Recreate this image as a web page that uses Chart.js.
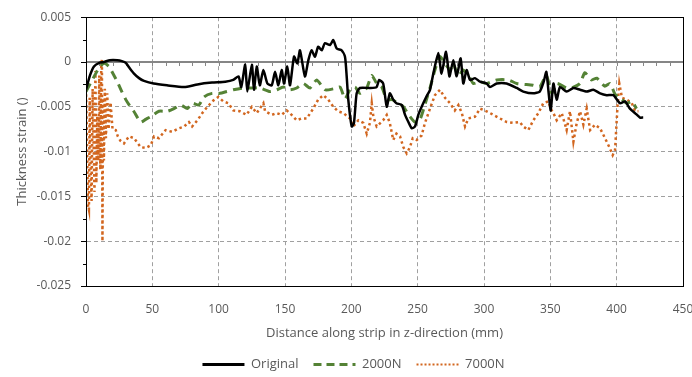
<!DOCTYPE html>
<html>
<head>
<meta charset="utf-8">
<script src="https://cdn.jsdelivr.net/npm/chart.js@4.4.1/dist/chart.umd.min.js"></script>
<style>
  html, body { margin: 0; padding: 0; background: #fff; }
  #wrap { width: 692px; height: 377px; }
</style>
</head>
<body>
<div id="wrap"><canvas id="myChart" width="692" height="377"></canvas></div>
<script>
// values
const seriesNames = ['Original', '2000N', '7000N'];

const origX = [0,3,6,10,13.6,18,23.6,27,30,33,36,40,43.7,51,61,74,84,95,105,111,115,117,120,121.6,125,126.6,128.7,131,133.7,136.7,140,142.5,145,147.5,149.3,151.7,153.8,156.8,159.3,161.3,165,167.6,170,172.6,175,177.7,180,184,186.4,189,192.7,195.2,196.5,197.7,200.3,202,204,206.5,214,219,221,224,226.7,229,231.6,234,238,240.5,243,245.5,248,250.5,253,256.8,259.3,261.8,265.6,268,271.4,273.9,276.9,279.4,282.4,284.4,286.9,289.5,293.2,297,302,304.5,309.6,317,324.7,329.6,337,342,345,347,348.5,350.3,352.3,354.8,357.3,362.3,367.4,372.4,377.4,382.4,387.5,392.5,397.5,402.5,406.3,410,413.8,417.6,420];
const origY = [-0.0031,-0.0015,-0.0005,-0.0001,0,0.0002,0.0002,0.0001,-0.0001,-0.0007,-0.00126,-0.0018,-0.0021,-0.0024,-0.0026,-0.0028,-0.0025,-0.0023,-0.0022,-0.002,-0.0016,-0.0028,-0.0003,-0.0033,-0.0003,-0.0031,-0.0005,-0.0026,-0.0009,-0.0024,-0.0026,-0.0011,-0.0026,-0.0009,-0.0024,-0.0005,-0.0026,0.0006,-0.00015,0.0013,-0.0016,0.0002,0.0013,0.0006,0.0017,0.0013,0.0021,0.0019,0.00245,0.0015,0.0013,0.0006,-0.0016,-0.0042,-0.0072,-0.0068,-0.0035,-0.0029,-0.0029,-0.0028,-0.002,-0.0024,-0.005,-0.0035,-0.0042,-0.0046,-0.0048,-0.0059,-0.0067,-0.0074,-0.0072,-0.0059,-0.005,-0.0038,-0.0031,-0.0013,0.001,-0.0013,0.00115,-0.0016,0.0002,-0.0016,0.0004,-0.0024,-0.0009,-0.002,-0.0018,-0.0022,-0.0024,-0.0028,-0.0024,-0.0024,-0.0029,-0.0033,-0.0035,-0.0033,-0.0022,-0.0011,-0.0031,-0.0054,-0.0024,-0.0042,-0.0028,-0.0033,-0.0029,-0.0031,-0.0033,-0.0031,-0.0035,-0.0037,-0.0037,-0.0046,-0.0044,-0.0052,-0.0057,-0.0062,-0.0062];

const n2000X = [0,4,7.3,10,13.6,17.3,20,23.6,27,30,33,36,41.2,45,48.8,55,61.3,66.3,71.4,76.4,80,85,89,95,101,106,111,118.6,126,131,138.7,143.7,148.7,153.8,158.8,163.8,168.9,173.9,180.2,186.4,191.5,195.2,199,202.8,206.5,211.6,215.4,219.2,223,226.7,230.5,235.4,239.2,244.2,248,251.8,256.8,259.3,263,266.8,270.6,274.4,276.9,280.7,284.4,289.5,292,297,302,309.6,318.4,324.7,337,342,347,351,354.8,362.3,367.4,372.4,376,381,385,391,395,398.8,402.5,407.6,411.4,415];
const n2000Y = [-0.0033,-0.0022,-0.0013,-0.0006,-0.00015,-0.0005,-0.0012,-0.0022,-0.0033,-0.0042,-0.0049,-0.0055,-0.0067,-0.0064,-0.0061,-0.0055,-0.0055,-0.0052,-0.0048,-0.0052,-0.0046,-0.0048,-0.0039,-0.0035,-0.0035,-0.0033,-0.0031,-0.0029,-0.0029,-0.0029,-0.0033,-0.0031,-0.0028,-0.0031,-0.0029,-0.0024,-0.0029,-0.002,-0.0031,-0.003,-0.0028,-0.0041,-0.0031,-0.0028,-0.0035,-0.0029,-0.0015,-0.0024,-0.0028,-0.0042,-0.0042,-0.0046,-0.005,-0.0061,-0.0067,-0.0064,-0.0041,-0.0029,-0.0009,0.0006,-0.00015,-0.0009,-0.0002,-0.0016,-0.0009,-0.0018,-0.0024,-0.0022,-0.0024,-0.002,-0.002,-0.0024,-0.0026,-0.0028,-0.0015,-0.0035,-0.0024,-0.0029,-0.0028,-0.0024,-0.0012,-0.002,-0.0018,-0.0027,-0.0024,-0.0036,-0.004,-0.0046,-0.0044,-0.0052];

const n7000X = [0,0.8,1.5,2.2,2.8,3.5,4.2,5,5.7,6.4,7.1,7.8,8.5,9.2,10,10.8,11.5,12,12.4,12.9,13.5,14.2,15,16,17,18.5,20,22.4,24,26,28.6,32.4,36.2,41.2,45,48.8,51.3,55,60,65,70,74,77.6,80,84,87.7,91.5,96,99.7,103.5,107.3,111,116,121,125,128.7,133.7,135,140,143.7,147.5,151.3,155,158.8,162.6,166.4,171.3,175,178.9,182.6,186.4,190,194,199,201.5,205.3,209,211.6,214,215.4,216.6,219.1,224,226.7,229,231.6,234,236.7,239.2,241.7,244.2,246.3,249.3,253,255.5,259.3,263,266.8,270.6,274.4,278,280.7,283.3,285.7,288.2,293.2,297,302,307,312,317.2,322,327,329.6,333.4,337.2,341,344.7,348.5,350.3,352.3,354.8,358.6,362.3,364.8,367.4,369.9,372.4,374.9,377.4,380,383.7,387.5,391.2,394.5,397,398.8,400.6,402,404,407.6,411.4,414,416.4];
const n7000Y = [-0.003,-0.009,-0.016,-0.0165,-0.004,-0.012,-0.0155,-0.003,-0.009,-0.0145,-0.001,-0.0135,-0.006,-0.011,-0.0015,-0.012,-0.0005,0.0003,-0.02,-0.004,-0.011,-0.003,-0.0085,-0.0035,-0.0075,-0.0045,-0.0075,-0.0076,-0.0083,-0.0088,-0.0091,-0.0083,-0.0085,-0.0095,-0.0096,-0.0093,-0.0083,-0.0085,-0.0076,-0.0078,-0.0074,-0.0072,-0.0067,-0.0072,-0.0065,-0.0057,-0.005,-0.0043,-0.0039,-0.0044,-0.0046,-0.0054,-0.0055,-0.0059,-0.005,-0.0057,-0.0046,-0.0055,-0.0059,-0.0057,-0.0059,-0.0054,-0.0059,-0.0065,-0.0063,-0.0063,-0.0052,-0.0042,-0.0037,-0.0042,-0.005,-0.0055,-0.0057,-0.0063,-0.0072,-0.0065,-0.0068,-0.008,-0.0068,-0.0046,-0.0061,-0.0072,-0.0065,-0.0059,-0.0068,-0.0087,-0.008,-0.0083,-0.0095,-0.0102,-0.0095,-0.0085,-0.0087,-0.0082,-0.0068,-0.0052,-0.0037,-0.0031,-0.004,-0.0046,-0.0054,-0.0048,-0.0057,-0.0072,-0.0063,-0.0061,-0.0052,-0.0055,-0.0059,-0.0063,-0.0067,-0.0068,-0.0067,-0.0072,-0.0076,-0.0065,-0.0057,-0.0046,-0.0044,-0.0052,-0.0057,-0.0065,-0.0057,-0.0076,-0.0055,-0.0089,-0.0068,-0.0055,-0.007,-0.0052,-0.0076,-0.007,-0.0074,-0.0085,-0.0095,-0.0104,-0.0098,-0.005,-0.0024,-0.004,-0.0042,-0.0046,-0.0055,-0.0055];

const xTicks = [0, 50, 100, 150, 200, 250, 300, 350, 400, 450];
const yTicks = [0.005, 0, -0.005, -0.01, -0.015, -0.02, -0.025];

const toPoints = (xs, ys) => xs.map((x, i) => ({ x: x, y: ys[i] }));

const textGrey = '#595959';
const font = 'Open Sans';

// zero axis line with minor ticks, minor ticks on y axis, box round plot
const axisDecor = {
  id: 'axisDecor',
  afterInit(chart) {
    // fixed legend band height, legend nudged to where the reference has it
    const lg = chart.legend;
    const fit = lg.fit;
    lg.fit = function () { fit.call(this); this.height = 44; };
    const draw = lg.draw;
    lg.draw = function () {
      this.ctx.save();
      this.ctx.translate(12, 10);
      draw.call(this);
      this.ctx.restore();
    };
  },
  beforeDatasetsDraw(chart) {
    const ctx = chart.ctx;
    const x = chart.scales.x, y = chart.scales.y;
    const a = chart.chartArea;
    const y0 = Math.round(y.getPixelForValue(0));
    ctx.save();
    ctx.strokeStyle = '#868686';
    ctx.lineWidth = 2;
    ctx.beginPath();
    ctx.moveTo(a.left, y0);
    ctx.lineTo(a.right, y0);
    ctx.stroke();
    ctx.lineWidth = 1;
    ctx.beginPath();
    for (let v = 10; v <= 450; v += 10) {
      const px = Math.round(x.getPixelForValue(v)) + 0.5;
      ctx.moveTo(px, y0);
      ctx.lineTo(px, y0 + 4);
    }
    ctx.stroke();
    ctx.restore();
  },
  afterDraw(chart) {
    const ctx = chart.ctx;
    const y = chart.scales.y;
    const a = chart.chartArea;
    ctx.save();
    ctx.strokeStyle = '#000';
    ctx.lineWidth = 1;
    ctx.beginPath();
    for (let v = -0.0225; v < 0.005; v += 0.005) {
      const py = Math.round(y.getPixelForValue(v)) + 0.5;
      ctx.moveTo(a.left - 3, py);
      ctx.lineTo(a.left, py);
    }
    ctx.stroke();
    ctx.strokeRect(Math.round(a.left) + 0.5, Math.round(a.top) + 0.5,
      Math.round(a.right - a.left), Math.round(a.bottom - a.top));
    ctx.restore();
  }
};

new Chart(document.getElementById('myChart'), {
  type: 'scatter',
  data: {
    datasets: [
      {
        label: seriesNames[0],
        data: toPoints(origX, origY),
        showLine: true,
        borderColor: '#000000',
        backgroundColor: '#000000',
        borderWidth: 2.5,
        pointRadius: 0,
        tension: 0.2
      },
      {
        label: seriesNames[1],
        data: toPoints(n2000X, n2000Y),
        showLine: true,
        borderColor: '#548235',
        backgroundColor: '#548235',
        borderWidth: 3,
        borderDash: [9, 6],
        pointRadius: 0,
        tension: 0.2
      },
      {
        label: seriesNames[2],
        data: toPoints(n7000X, n7000Y),
        showLine: true,
        borderColor: '#D2661F',
        backgroundColor: '#D2661F',
        borderWidth: 2.5,
        borderDash: [2.5, 3],
        pointRadius: 0,
        tension: 0
      }
    ]
  },
  options: {
    responsive: false,
    animation: false,
    layout: { padding: { left: 0, right: 9, top: 17, bottom: 0 } },
    plugins: {
      tooltip: { enabled: false },
      legend: {
        position: 'bottom',
        labels: {
          usePointStyle: true,
          pointStyleWidth: 42,
          padding: 15,
          color: textGrey,
          font: { family: font, size: 13 },
          generateLabels: chart => chart.data.datasets.map((ds, i) => ({
            text: ds.label,
            datasetIndex: i,
            pointStyle: 'line',
            strokeStyle: ds.borderColor,
            fillStyle: ds.borderColor,
            lineWidth: i === 2 ? 2 : 3,
            lineDash: i === 1 ? [8, 5] : (i === 2 ? [2, 2] : []),
            fontColor: textGrey,
            hidden: false
          }))
        }
      }
    },
    scales: {
      x: {
        type: 'linear',
        min: 0,
        max: 450,
        afterBuildTicks: s => { s.ticks = xTicks.map(v => ({ value: v })); },
        afterFit: s => { s.height = 47; s.paddingLeft = 0; s.paddingRight = 0; },
        ticks: { color: textGrey, padding: 16, font: { family: font, size: 12 } },
        grid: { color: '#a0a0a0', drawTicks: false },
        border: { color: '#000', dash: [4, 3] },
        title: {
          display: true,
          text: 'Distance along strip in z-direction (mm)',
          color: textGrey,
          font: { family: font, size: 13 },
          padding: { top: 0, bottom: -8 }
        }
      },
      y: {
        min: -0.025,
        max: 0.005,
        afterBuildTicks: s => { s.ticks = yTicks.map(v => ({ value: v })); },
        afterFit: s => { s.width = 86; },
        ticks: {
          color: textGrey,
          padding: 10,
          font: { family: font, size: 12 },
          callback: v => Math.abs(v) < 1e-9 ? '0' : String(+v.toFixed(3))
        },
        grid: { color: '#a0a0a0', tickColor: '#000', tickLength: 5 },
        border: { color: '#000', dash: [4, 3] },
        title: {
          display: true,
          text: 'Thickness strain ()',
          color: textGrey,
          font: { family: font, size: 13 },
          padding: { top: 14, bottom: 0 }
        }
      }
    }
  },
  plugins: [axisDecor]
});
</script>
</body>
</html>
